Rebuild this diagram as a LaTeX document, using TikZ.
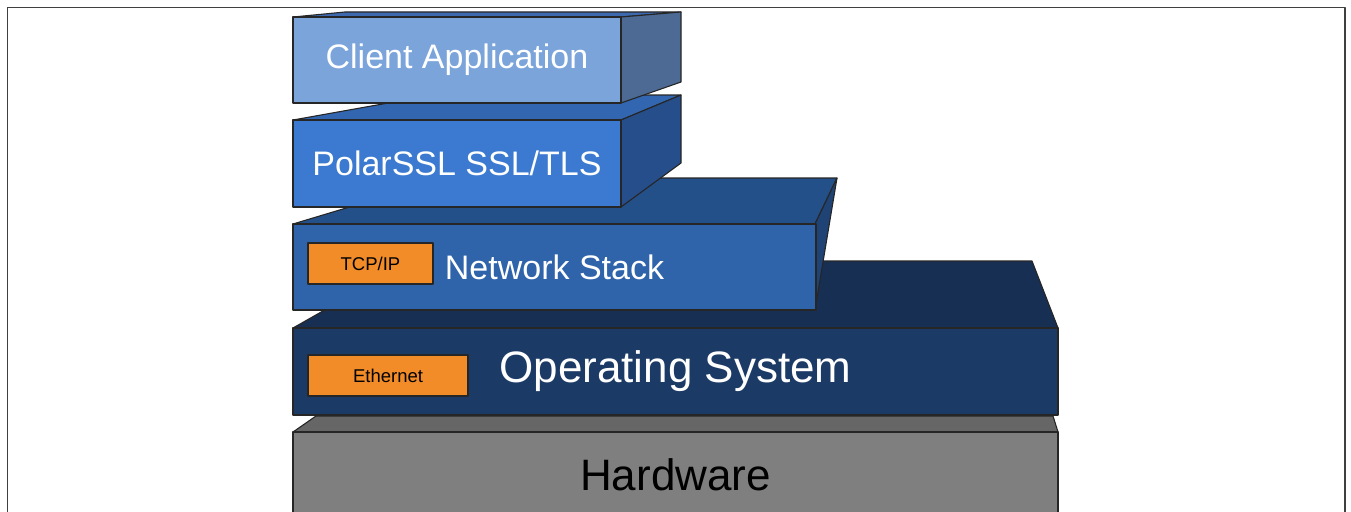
\documentclass[tikz,border=0pt]{standalone}
\usepackage{fontspec}
\setmainfont{Liberation Sans}
\usetikzlibrary{positioning}
\definecolor{appfront}{HTML}{7BA4DB}
\definecolor{apptop}{HTML}{3D6AAE}
\definecolor{appside}{HTML}{4C6A94}
\definecolor{sslfront}{HTML}{3B7AD0}
\definecolor{ssltop}{HTML}{3366B0}
\definecolor{sslside}{HTML}{254E8A}
\definecolor{netfront}{HTML}{2F63AA}
\definecolor{nettop}{HTML}{24508A}
\definecolor{netside}{HTML}{1F4375}
\definecolor{osfront}{HTML}{1C3A66}
\definecolor{ostop}{HTML}{172F52}
\definecolor{hwfront}{HTML}{7F7F7F}
\definecolor{hwtop}{HTML}{666666}
\definecolor{tagorange}{HTML}{F28C28}
\begin{document}
\begin{tikzpicture}[x=1pt,y=-1pt,line join=round,
  face/.style={draw=black!85,line width=1.1pt},
  layer/.style={face,inner sep=0pt,text=white,font=\fontsize{34}{40}\selectfont},
  tag/.style={face,fill=tagorange,inner sep=0pt,font=\fontsize{18.5}{22}\selectfont}]
  \useasboundingbox (0,0) rectangle (1351,511);
  \draw[black!75,line width=1.5pt] (7.5,515) |- (1345,7.5) -- (1345,515);

  \draw[face,fill=hwtop] (293,432) -- (316,416) -- (1053,416) -- (1058,432) -- cycle;
  \node[layer,fill=hwfront,text=black,font=\fontsize{44}{50}\selectfont,
    minimum width=765pt,minimum height=86pt] (hw) at (675.5,475) {Hardware};

  \draw[face,fill=ostop] (293,328) -- (411,261) -- (1032,261) -- (1058,328) -- cycle;
  \node[layer,fill=osfront,font=\fontsize{44}{50}\selectfont,
    minimum width=765pt,minimum height=87pt] (os) at (675.5,371.5) {Operating System};
  \node[tag,right=15pt of os.west,yshift=-4pt,minimum width=160pt,minimum height=41pt] (eth) {Ethernet};

  \draw[face,fill=nettop] (293,224) -- (446,178) -- (837,178) -- (815,224) -- cycle;
  \draw[face,fill=netside] (815,224) -- (837,178) -- (815,310) -- cycle;
  \node[layer,fill=netfront,minimum width=523pt,minimum height=86pt] (net) at (554.5,267) {Network Stack};
  \node[tag,right=15pt of net.west,yshift=3.5pt,minimum width=125pt,minimum height=41pt] (tcp) {TCP/IP};

  \draw[face,fill=ssltop] (293,120) -- (433,95) -- (681,95) -- (621,120) -- cycle;
  \draw[face,fill=sslside] (621,120) -- (681,95) -- (681,163) -- (621,207) -- cycle;
  \node[layer,fill=sslfront,minimum width=328pt,minimum height=87pt] (ssl) at (457,163.5) {PolarSSL SSL/TLS};

  \draw[face,fill=apptop] (293,17) -- (345,12) -- (681,12) -- (621,17) -- cycle;
  \draw[face,fill=appside] (621,17) -- (681,12) -- (681,82) -- (621,103) -- cycle;
  \node[layer,fill=appfront,minimum width=328pt,minimum height=86pt] (app) at (457,60) {Client Application};
\end{tikzpicture}
\end{document}
